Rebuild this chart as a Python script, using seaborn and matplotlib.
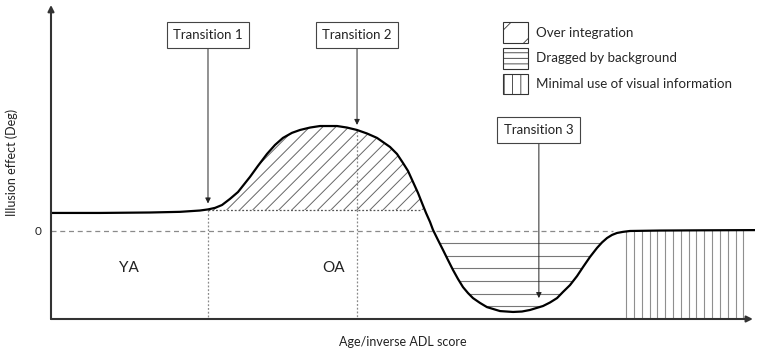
import numpy as np
import matplotlib
matplotlib.use("Agg")
import matplotlib.pyplot as plt
from matplotlib.patches import Patch
import seaborn as sns

# conceptual curve: illusion effect vs age / inverse ADL score
age = [0, 6.96, 14.06, 18.32, 21.16, 22.30, 23.30, 24.29, 25.43, 26.56, 28.27, 29.40,
       30.68, 31.82, 32.95, 34.23, 35.37, 36.79, 38.21, 40.63, 42.05, 43.47, 44.89,
       46.31, 48.15, 49.15, 50.00, 50.71, 51.42, 52.13, 52.70, 53.27, 53.84, 54.26,
       54.97, 55.68, 56.39, 57.10, 57.81, 58.52, 59.23, 59.94, 60.94, 61.93, 63.78,
       65.63, 66.90, 68.04, 69.89, 70.88, 71.88, 72.73, 73.72, 74.72, 75.57, 76.56,
       77.56, 78.27, 78.98, 79.69, 80.40, 81.25, 82.24, 86.51, 92.19, 100]
effect = [0.82, 0.82, 0.84, 0.87, 0.93, 0.98, 1.05, 1.18, 1.46, 1.77, 2.46, 2.96,
          3.50, 3.91, 4.23, 4.46, 4.59, 4.70, 4.77, 4.77, 4.70, 4.59, 4.43,
          4.23, 3.82, 3.50, 3.09, 2.73, 2.23, 1.73, 1.27, 0.82, 0.41, 0.05,
          -0.41, -0.86, -1.32, -1.77, -2.18, -2.55, -2.82, -3.05, -3.27, -3.46, -3.64,
          -3.68, -3.66, -3.59, -3.41, -3.25, -3.05, -2.77, -2.46, -2.05, -1.64, -1.18,
          -0.77, -0.52, -0.32, -0.18, -0.09, -0.04, 0.0, 0.02, 0.03, 0.04]

transitions = ["Transition 1", "Transition 2", "Transition 3"]
trans_x = [22.30, 43.47, 69.30]
trans_tip = [1.25, 4.82, -3.05]
trans_box_y = [8.91, 8.91, 4.59]

groups = ["YA", "OA"]
group_x = [11.1, 40.2]
group_y = [-1.68, -1.68]

legend_labels = ["Over integration", "Dragged by background",
                 "Minimal use of visual information"]
legend_hatch = ["/", "---", "||"]

base_level = 0.955      # level of Transition 1, lower edge of over integration
flat_start = 81.7       # where the curve settles back to zero
xmin, xmax = 0, 100
ymin, ymax = -4, 10.27

sns.set_theme(style="white")
plt.rcParams["font.family"] = ["Lato", "DejaVu Sans"]
plt.rcParams["hatch.linewidth"] = 0.6

fig = plt.figure(figsize=(7.58, 3.58), dpi=100)
ax = fig.add_axes([51 / 758, 39 / 358, 704 / 758, 314 / 358])
ax.set_xlim(xmin, xmax)
ax.set_ylim(ymin, ymax)

x = np.array(age)
y = np.array(effect)

# reference lines
ax.plot([xmin, 79.8], [0, 0], color="#8a8a8a", lw=0.9, dashes=(4, 3))
ax.plot([trans_x[0], trans_x[0]], [base_level, ymin], color="#8a8a8a", lw=0.9, ls=(0, (1.5, 1.5)))
ax.plot([trans_x[1], trans_x[1]], [4.55, ymin], color="#8a8a8a", lw=0.9, ls=(0, (1.5, 1.5)))
ax.plot([trans_x[0], 52.5], [base_level, base_level], color="#555555", lw=0.9, ls=(0, (1.5, 1.5)))

# hatched regions (hatch lines clipped to the regions)
over = ax.fill_between(x, y, base_level, where=y >= base_level, interpolate=True,
                       facecolor="none", lw=0)
dragged = ax.fill_between(x, y, 0, where=y < 0, interpolate=True, facecolor="none", lw=0)
below = ax.fill_between(x, y, ymin, facecolor="none", lw=0)

slope = (704 / (xmax - xmin)) / (314 / (ymax - ymin))
dx = (5.5 - base_level) / slope
for c in np.arange(12, 56, 1.85):
    ln, = ax.plot([c, c + dx], [base_level, base_level + slope * dx], color="#666666", lw=0.7)
    ln.set_clip_path(over.get_paths()[0], ax.transData)

hl = ax.hlines(np.arange(-0.55, -3.7, -0.573), 50, 85, color="#777777", lw=0.8)
hl.set_clip_path(dragged.get_paths()[0], ax.transData)

vl = ax.vlines(np.arange(flat_start, 99, 1.11), ymin, 1, color="#8f8f8f", lw=0.8)
vl.set_clip_path(below.get_paths()[0], ax.transData)

sns.lineplot(x=x, y=y, ax=ax, color="black", lw=1.6, sort=False, estimator=None)

# transition call-outs
for name, tx, tip, by in zip(transitions, trans_x, trans_tip, trans_box_y):
    ax.annotate(name, xy=(tx, tip), xytext=(tx, by), ha="center", va="center",
                fontsize=9.5, color="#222222",
                bbox=dict(boxstyle="square,pad=0.5", fc="white", ec="#444444", lw=0.8),
                arrowprops=dict(arrowstyle="-|>", color="#222222", lw=0.7,
                                mutation_scale=8, shrinkA=0, shrinkB=0))

for g, gx, gy in zip(groups, group_x, group_y):
    ax.text(gx, gy, g, ha="center", va="center", fontsize=11, color="#222222")

# axes with arrows
for s in ax.spines.values():
    s.set_visible(False)
ax.annotate("", xy=(0, 1), xytext=(0, 0), xycoords="axes fraction",
            arrowprops=dict(arrowstyle="-|>", color="#333333", lw=1.5,
                            mutation_scale=9, shrinkA=0, shrinkB=0))
ax.annotate("", xy=(0.997, 0), xytext=(0, 0), xycoords="axes fraction",
            arrowprops=dict(arrowstyle="-|>", color="#333333", lw=1.5,
                            mutation_scale=9, shrinkA=0, shrinkB=0))

ax.set_xticks([])
ax.set_yticks([0])
ax.set_yticklabels(["0"], fontsize=8.5, color="#222222")
ax.tick_params(axis="y", length=0, pad=7)

ax.set_ylabel("Illusion effect (Deg)", fontsize=9, color="#222222")
ax.yaxis.set_label_coords(-0.047, 0.5)
ax.set_xlabel("Age/inverse ADL score", fontsize=9, color="#222222")
ax.xaxis.set_label_coords(0.5, -0.054)

handles = [Patch(facecolor="white", edgecolor="#333333", hatch=h, lw=0.8) for h in legend_hatch]
ax.legend(handles, legend_labels, loc="upper left", bbox_to_anchor=(503 / 758, 1 - 22 / 358),
          bbox_transform=fig.transFigure, frameon=False, fontsize=9.6, borderpad=0,
          borderaxespad=0, handlelength=1.84, handleheight=2.0, labelspacing=0.4,
          handletextpad=0.66)

fig.savefig("out.png", dpi=100)
